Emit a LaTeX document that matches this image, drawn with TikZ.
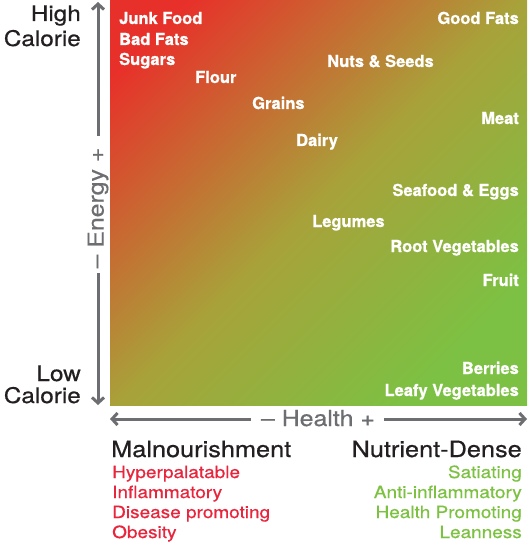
\documentclass[tikz,border=0pt]{standalone}
\usepackage{fontspec}
\setmainfont{TeX Gyre Heros}
\newfontfamily\widefont[FakeStretch=1.13,FakeBold=0.6]{TeX Gyre Heros}
\newfontfamily\lblfont[FakeBold=0.8]{TeX Gyre Heros Bold}
\usetikzlibrary{arrows.meta,calc}
\definecolor{cRed}{HTML}{E8302A}
\definecolor{cOlive}{HTML}{A8A23A}
\definecolor{cGreen}{HTML}{7CC143}
\definecolor{axgray}{HTML}{6D6E71}
\definecolor{txtred}{HTML}{E8253C}
\definecolor{txtgreen}{HTML}{7DC142}
\definecolor{txtblack}{HTML}{231F20}
\pgfdeclarehorizontalshading{diagshade}{100bp}{color(0bp)=(cRed); color(21bp)=(cRed); color(50bp)=(cOlive); color(75bp)=(cGreen); color(100bp)=(cGreen)}
\tikzset{
  lbl/.style={text=white, font=\lblfont\fontsize{16.5bp}{18bp}\selectfont, inner sep=0pt},
  lbll/.style={lbl, anchor=base west},
  lblr/.style={lbl, anchor=base east},
  bigtxt/.style={text=txtblack, font=\widefont\fontsize{21.5bp}{24bp}\selectfont, inner sep=0pt, anchor=base east},
  headtxt/.style={text=txtblack, font=\widefont\fontsize{22.4bp}{24bp}\selectfont, inner sep=0pt},
  subtxt/.style={font=\widefont\fontsize{16.8bp}{19bp}\selectfont, inner sep=0pt},
  axtxt/.style={text=axgray, font=\widefont\fontsize{22bp}{24bp}\selectfont, inner sep=0pt},
  axisline/.style={line width=3bp, draw=axgray, -{Straight Barb[length=5.5bp,width=12bp]}},
}
\begin{document}
\begin{tikzpicture}[x=1bp,y=-1bp]
\useasboundingbox (0,0) rectangle (528,543);
% gradient square
\shade[shading=diagshade, shading angle=-45]
  (110,1) rectangle (527,405);
% food labels
\node[lbll] (junk) at (119,24) {Junk Food};
\node[lbll] (badfats) at (119,45) {Bad Fats};
\node[lbll] (sugars) at (119,65) {Sugars};
\node[lbll] (flour) at (195,83) {Flour};
\node[lbll] (grains) at (252,109) {Grains};
\node[lbll] (dairy) at (296,146) {Dairy};
\node[lbll] (nuts) at (327,67) {Nuts \& Seeds};
\node[lbll] (legumes) at (312,227) {Legumes};
\node[lblr] (goodfats) at (519,24) {Good Fats};
\node[lblr] (meat) at (519,124) {Meat};
\node[lblr] (seafood) at (519,196) {Seafood \& Eggs};
\node[lblr] (root) at (519,252) {Root Vegetables};
\node[lblr] (fruit) at (519,286) {Fruit};
\node[lblr] (berries) at (519,374) {Berries};
\node[lblr] (leafy) at (519,396) {Leafy Vegetables};
% left labels
\node[bigtxt] (high) at (81,21) {High};
\node[bigtxt] (calhi) at (81,46) {Calorie};
\node[bigtxt] (low) at (81,381) {Low};
\node[bigtxt] (callo) at (81,403) {Calorie};
% vertical axis
\node[axtxt, rotate=90] (energy) at (98,208) {– Energy +};
\coordinate (ytop) at (98,2);
\coordinate (ybot) at (98,405);
\coordinate (yup) at (98,136);
\coordinate (ydn) at (98,273);
\draw[axisline] (yup) -- (ytop);
\draw[axisline] (ydn) -- (ybot);
% horizontal axis
\node[axtxt, anchor=base] (health) at (318,426) {– Health +};
\coordinate (xl) at (110,419);
\coordinate (xr) at (527,419);
\coordinate (xlm) at (251,419);
\coordinate (xrm) at (384,419);
\draw[axisline] (xlm) -- (xl);
\draw[axisline] (xrm) -- (xr);
% bottom left
\node[headtxt, anchor=base west] (maln) at (111,457) {Malnourishment};
\node[subtxt, text=txtred, anchor=base west] (hyper) at (112,478) {Hyperpalatable};
\node[subtxt, text=txtred, anchor=base west] (infl) at (112,498) {Inflammatory};
\node[subtxt, text=txtred, anchor=base west] (dis) at (112,518) {Disease promoting};
\node[subtxt, text=txtred, anchor=base west] (obes) at (112,538) {Obesity};
% bottom right
\node[headtxt, anchor=base east] (nutr) at (522,457) {Nutrient-Dense};
\node[subtxt, text=txtgreen, anchor=base east] (sat) at (522,478) {Satiating};
\node[subtxt, text=txtgreen, anchor=base east] (anti) at (522,498) {Anti-inflammatory};
\node[subtxt, text=txtgreen, anchor=base east] (hp) at (522,518) {Health Promoting};
\node[subtxt, text=txtgreen, anchor=base east] (lean) at (522,538) {Leanness};
\end{tikzpicture}
\end{document}
